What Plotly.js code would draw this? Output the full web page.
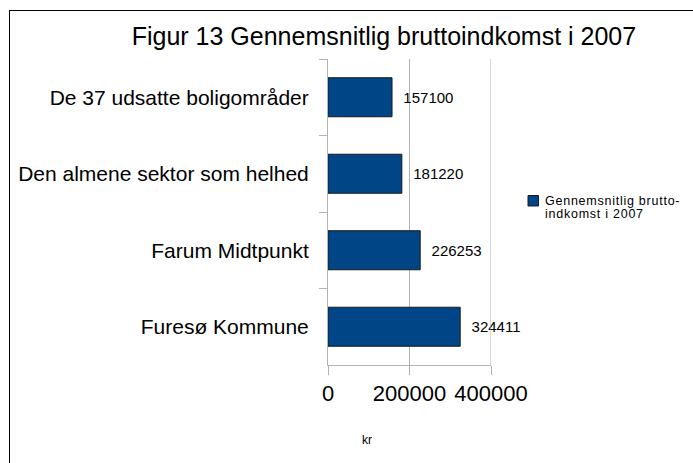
<!DOCTYPE html>
<html>
<head>
<meta charset="utf-8">
<script src="https://cdn.plot.ly/plotly-3.0.1.min.js"></script>
<style>
  html, body { margin: 0; padding: 0; background: #fff; }
  #wrap { position: relative; width: 693px; height: 463px; overflow: hidden; }
  #chart { width: 693px; height: 463px; }
  #frame { position: absolute; left: 9px; top: 10px; right: -2px; bottom: -2px;
           border-left: 1px solid #000; border-top: 1px solid #000; pointer-events: none; }
</style>
</head>
<body>
<div id="wrap"><div id="chart"></div><div id="frame"></div></div>
<script>
const categories = ["De 37 udsatte boligområder", "Den almene sektor som helhed", "Farum Midtpunkt", "Furesø Kommune"];
const values = [157100, 181220, 226253, 324411];
const seriesName = "Gennemsnitlig bruttoindkomst i 2007";
const legendLines = ["Gennemsnitlig brutto-", "indkomst i 2007"];
const xTicks = [0, 200000, 400000];
const xTickLabels = ["0", "200000", "400000"];
const titleText = "Figur 13 Gennemsnitlig bruttoindkomst i 2007";
const axisTitle = "kr";

const font = "Liberation Sans, Arial, sans-serif";
const barColor = "#004586";

const trace = {
  type: "bar",
  orientation: "h",
  y: categories,
  x: values,
  name: seriesName,
  text: values.map(v => String(v)),
  texttemplate: "  %{text}",
  textposition: "outside",
  cliponaxis: false,
  textfont: { family: font, size: 15, color: "#000" },
  marker: { color: barColor, line: { color: "#1a1a1a", width: 1 } },
  showlegend: false,
  hoverinfo: "x+y"
};

// legend drawn in paper coordinates (plot area spans 328..491 px horizontally, 59..365 vertically)
const pw = 163, ph = 306;
const px = v => (v - 328) / pw;
const py = v => (365 - v) / ph;
const spaced = s => '<span style="letter-spacing:0.75px">' + s + '</span>';

const layout = {
  width: 693, height: 463,
  margin: { l: 328, r: 202, t: 59, b: 98 },
  paper_bgcolor: "#fff", plot_bgcolor: "#fff",
  font: { family: font, color: "#000" },
  bargap: 0.49,
  title: { text: titleText, font: { family: font, size: 25, color: "#000" },
           x: 0.554, xanchor: "center", xref: "container", y: 0.922, yanchor: "middle" },
  xaxis: {
    range: [0, 400000], tickvals: xTicks, ticktext: xTickLabels,
    showgrid: true, gridcolor: "#b3b3b3", gridwidth: 1,
    zeroline: false, showline: true, linecolor: "#b3b3b3",
    ticks: "outside", ticklen: 9, tickcolor: "#b3b3b3",
    tickfont: { family: font, size: 22, color: "#000" },
    mirror: false, fixedrange: true
  },
  yaxis: {
    type: "category",
    categoryorder: "array", categoryarray: categories,
    autorange: "reversed",
    tickson: "boundaries", ticks: "outside", ticklen: 8, tickcolor: "#b3b3b3",
    ticklabelstandoff: 14,
    showgrid: false, showline: true, linecolor: "#b3b3b3",
    tickfont: { family: font, size: 21, color: "#000" },
    fixedrange: true
  },
  shapes: [
    { type: "line", xref: "x", yref: "paper", x0: 400000, x1: 400000, y0: 0, y1: 1,
      line: { color: "#b3b3b3", width: 1 } },
    { type: "rect", xref: "paper", yref: "paper", x0: px(528), x1: px(538.5), y0: py(206), y1: py(195.5),
      fillcolor: barColor, line: { color: "#1a1a1a", width: 1 } }
  ],
  annotations: [
    { text: axisTitle, xref: "x", yref: "paper", x: 95000, y: -0.245,
      showarrow: false, font: { family: font, size: 12, color: "#000" },
      xanchor: "center", yanchor: "middle" },
    { text: spaced(legendLines[0]), xref: "paper", yref: "paper", x: px(543), y: py(201),
      showarrow: false, xanchor: "left", yanchor: "middle",
      font: { family: font, size: 12.5, color: "#000" } },
    { text: spaced(legendLines[1]), xref: "paper", yref: "paper", x: px(543), y: py(213.5),
      showarrow: false, xanchor: "left", yanchor: "middle",
      font: { family: font, size: 12.5, color: "#000" } }
  ],
  showlegend: false
};

Plotly.newPlot("chart", [trace], layout, { displayModeBar: false, staticPlot: true });
</script>
</body>
</html>
